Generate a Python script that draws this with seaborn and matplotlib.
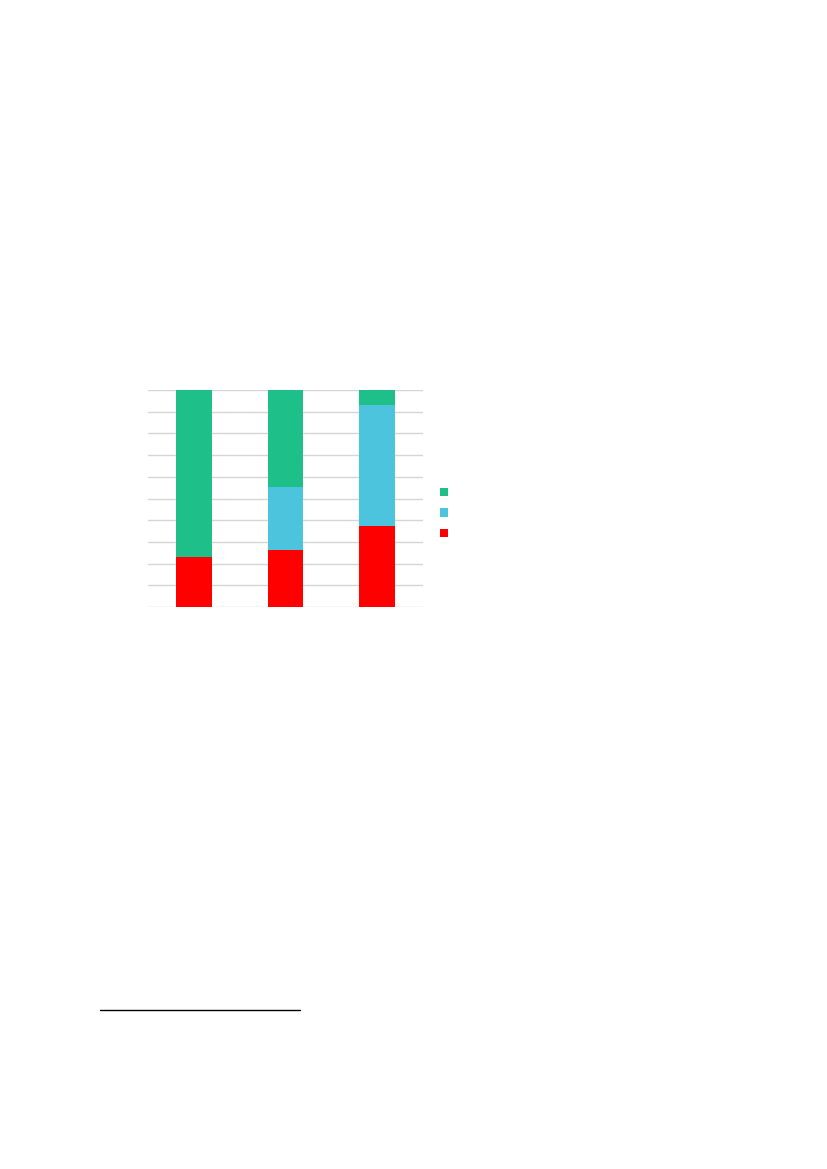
import matplotlib.pyplot as plt
import numpy as np
import pandas as pd
import seaborn as sns
from matplotlib.lines import Line2D
from matplotlib.patches import Patch

categories = ["A", "B", "C"]
red_vals = [23.1, 26.3, 37.5]
blue_vals = [0.0, 28.8, 55.4]
green_vals = [76.9, 44.9, 7.1]

colors = {"green": "#1FBF8A", "blue": "#4DC4DE", "red": "#FF0000"}

df = pd.DataFrame({
    "category": categories,
    "red": red_vals,
    "blue": blue_vals,
    "green": green_vals,
})
df["cum_red"] = df["red"]
df["cum_blue"] = df["red"] + df["blue"]
df["cum_green"] = df["cum_blue"] + df["green"]

sns.set_style("white")
fig = plt.figure(figsize=(8.27, 11.69), dpi=100)
ax = fig.add_axes([148 / 827, 1 - 607 / 1169, 275 / 827, 217 / 1169])

# stacked look: draw the cumulative totals from the top down
for col, key in [("cum_green", "green"), ("cum_blue", "blue"), ("cum_red", "red")]:
    sns.barplot(data=df, x="category", y=col, color=colors[key], width=0.39,
                saturation=1, ax=ax, zorder=3, linewidth=0)

ax.set_ylim(0, 100)
ax.set_xlim(-0.5, 2.5)
ax.set_yticks(np.arange(0, 101, 10))
ax.yaxis.grid(True, color="#D6D6D6", linewidth=1, zorder=0)
ax.set_axisbelow(True)
ax.set_xticks([])
ax.set_yticklabels([])
ax.tick_params(left=False, bottom=False)
ax.set_xlabel("")
ax.set_ylabel("")
for s in ax.spines.values():
    s.set_visible(False)

handles = [Patch(facecolor=colors[k], edgecolor="none") for k in ["green", "blue", "red"]]
fig.legend(handles, ["", "", ""], loc="center left",
           bbox_to_anchor=(433 / 827, 1 - 513.5 / 1169), frameon=False,
           handlelength=0.55, handleheight=0.55, labelspacing=0.47,
           handletextpad=0.2, borderpad=0)

fig.add_artist(Line2D([100 / 827, 300 / 827], [1 - 1010 / 1169, 1 - 1010 / 1169],
                      color="black", linewidth=1))

plt.savefig("out.png", dpi=100)
